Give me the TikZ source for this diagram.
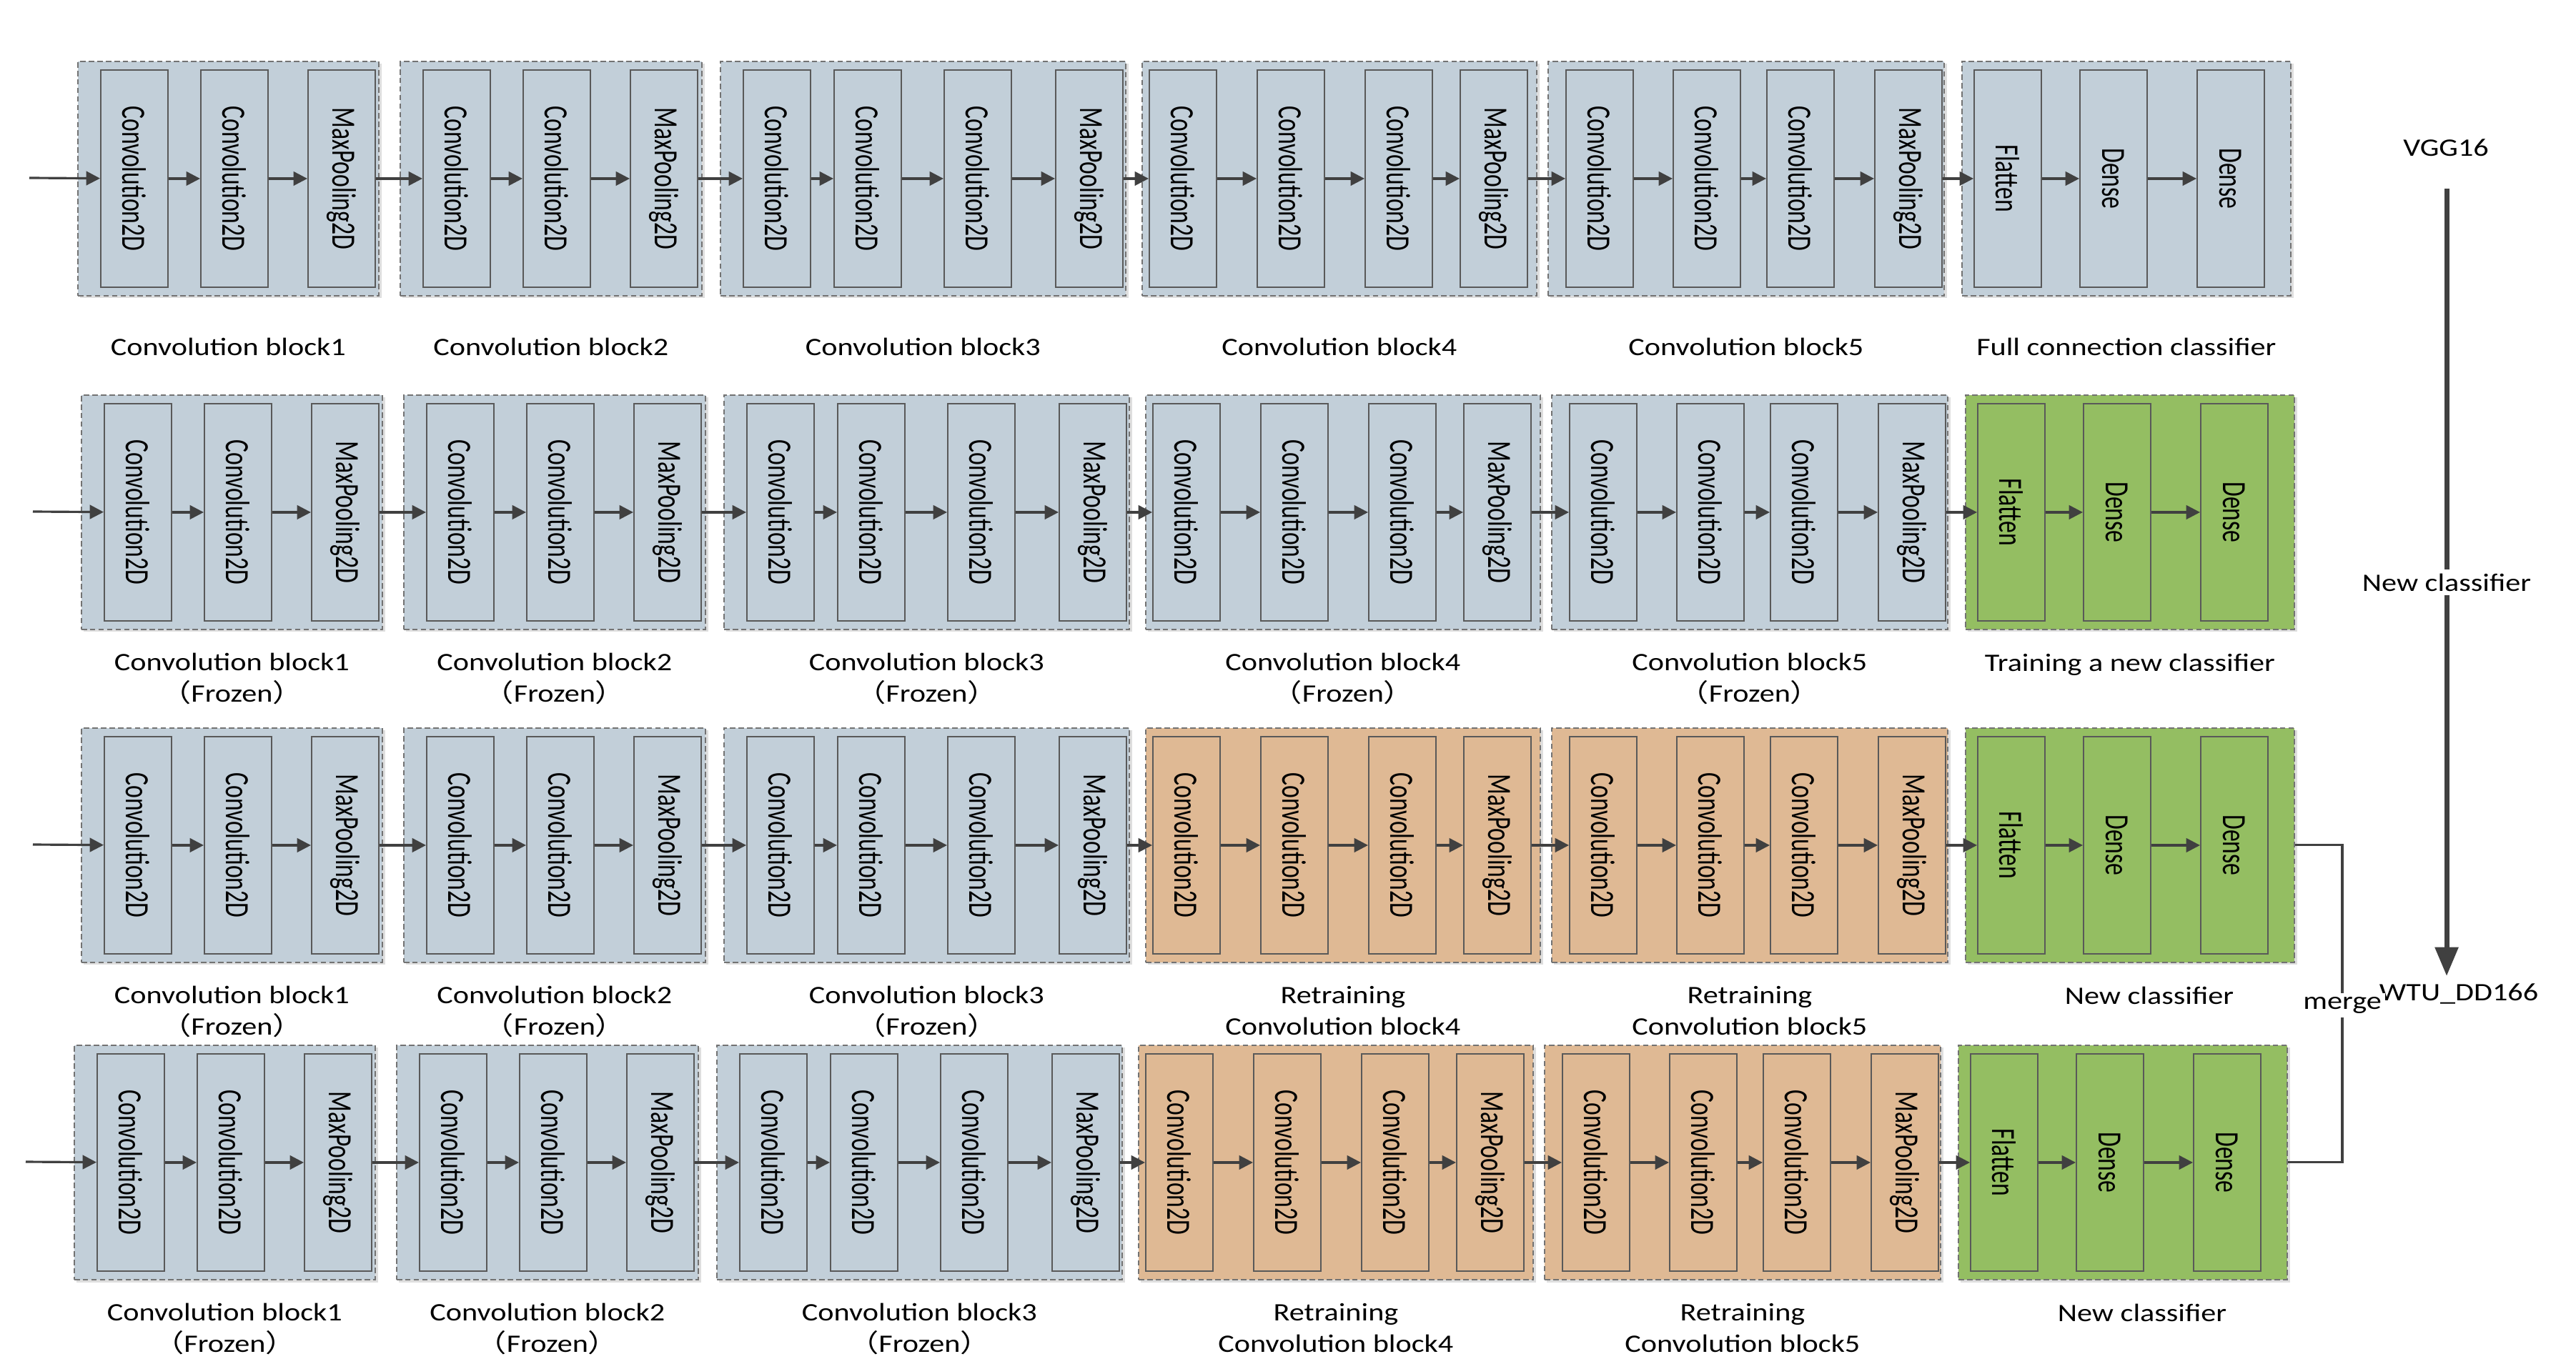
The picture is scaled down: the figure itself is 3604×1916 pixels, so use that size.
\documentclass[tikz,border=0pt]{standalone}
\usepackage{fontspec}
\setmainfont{Carlito}[FakeStretch=1.2]
\newfontfamily\layerfont{Carlito}[FakeStretch=0.71]
\newfontfamily\cjkfont{Noto Sans CJK SC}[FakeStretch=1.2]
\usetikzlibrary{arrows.meta, shadows, positioning}

\definecolor{bluegray}{RGB}{194,207,217}
\definecolor{retrain}{RGB}{223,185,148}
\definecolor{newcls}{RGB}{148,190,98}
\definecolor{linegray}{RGB}{64,64,64}

\newcommand{\frozen}{{\cjkfont （}Frozen{\cjkfont ）}}

% layers of each block: offset from the block's left edge / text
\def\blockA{32/Convolution2D,172/Convolution2D,322/MaxPooling2D}
\def\blockB{32/Convolution2D,159/Convolution2D,313/Convolution2D,469/MaxPooling2D}
\def\blockC{10/Convolution2D,161/Convolution2D,312/Convolution2D,445/MaxPooling2D}
\def\blockD{25/Convolution2D,175/Convolution2D,306/Convolution2D,457/MaxPooling2D}
\def\clsf{17/Flatten,165/Dense,329/Dense}

\tikzset{
  blockbox/.style={draw=black!55, dash pattern=on 2.2pt off 1.2pt, line width=0.45pt,
    inner sep=0pt, minimum height=32.8mm, anchor=north west,
    drop shadow={shadow xshift=0.35mm, shadow yshift=-0.35mm, fill=black!13, opacity=1}},
  layerbox/.style={draw=black!65, line width=0.5pt, inner sep=0pt,
    minimum width=9.4mm, minimum height=30.4mm, anchor=north west,
    font=\layerfont\fontsize{13.5}{13.5}\selectfont},
  flow/.style={-{Triangle[length=5.5pt,width=5.5pt]}, line width=0.9pt, draw=linegray},
  bigflow/.style={-{Triangle[length=11.5pt,width=9pt]}, line width=2pt, draw=linegray},
  caption/.style={align=center, anchor=base, font=\fontsize{10}{12.5}\selectfont},
}

% #1 name, #2 left, #3 top, #4 width, #5 fill, #6 layers
\newcommand{\netblock}[6]{%
  \node[blockbox, fill=#5, minimum width=#4*0.1mm] (#1) at (#2,#3) {};
  \foreach \off/\txt [count=\k, remember=\k as \j (initially 0)] in #6 {
    \node[layerbox, fill=#5] (#1-\k) at (#2+\off,#3+12) {\rotatebox{-90}{\txt}};
    \ifnum\k>1 \draw[flow] (#1-\j) -- (#1-\k); \fi
  }
}

\begin{document}
\begin{tikzpicture}[x=0.01cm, y=-0.01cm]
\useasboundingbox (0,0) rectangle (3604,1916);

% the four networks
\foreach \rw/\ytop/\dx in {1/85/0, 2/552/5, 3/1018/5, 4/1462/-5}{
  \ifnum\rw>2 \def\tailcol{retrain}\else\def\tailcol{bluegray}\fi
  \ifnum\rw>1 \def\clscol{newcls}\else\def\clscol{bluegray}\fi
  \netblock{r\rw b1}{108+\dx}{\ytop}{421}{bluegray}{\blockA}
  \netblock{r\rw b2}{559+\dx}{\ytop}{422}{bluegray}{\blockA}
  \netblock{r\rw b3}{1007+\dx}{\ytop}{567}{bluegray}{\blockB}
  \netblock{r\rw b4}{1597+\dx}{\ytop}{552}{\tailcol}{\blockC}
  \netblock{r\rw b5}{2165+\dx}{\ytop}{554}{\tailcol}{\blockD}
  \netblock{r\rw b6}{2744+\dx}{\ytop}{460}{\clscol}{\clsf}
  \coordinate (in\rw) at (41+\dx,\ytop+164);
  \draw[flow] (in\rw) -- (r\rw b1-1);
  \draw[flow] (r\rw b1-3) -- (r\rw b2-1);
  \draw[flow] (r\rw b2-3) -- (r\rw b3-1);
  \draw[flow] (r\rw b3-4) -- (r\rw b4-1);
  \draw[flow] (r\rw b4-4) -- (r\rw b5-1);
  \draw[flow] (r\rw b5-4) -- (r\rw b6-1);
}

% captions (base = baseline of the last line)
\foreach \bk in {1,...,5}
  \node[caption] at ([yshift=-8.3mm]r1b\bk.south) {Convolution block\bk};
\node[caption] at ([yshift=-8.3mm]r1b6.south) {Full connection classifier};
\foreach \bk in {1,...,5}
  \node[caption] at ([yshift=-10.1mm]r2b\bk.south) {Convolution block\bk\\\frozen};
\node[caption] at ([yshift=-5.8mm]r2b6.south) {Training a new classifier};
\foreach \rw in {3,4}{
  \foreach \bk in {1,2,3}
    \node[caption] at ([yshift=-10.1mm]r\rw b\bk.south) {Convolution block\bk\\\frozen};
  \foreach \bk in {4,5}
    \node[caption] at ([yshift=-10.1mm]r\rw b\bk.south) {Retraining\\Convolution block\bk};
  \node[caption] at ([xshift=2.7mm,yshift=-5.8mm]r\rw b6.south) {New classifier};
}

% from VGG16 to the merged model
\node (vgg) at (3422,207) {VGG16};
\coordinate (vtop) at (3423,264);
\coordinate (vtip) at (3423,1366);
\draw[bigflow] (vtop) -- (vtip);
\node[fill=white, inner sep=1.5pt] (newc) at (3423,815) {New classifier};
\node (wtu) at (3440,1391) {WTU\_DD166};

\coordinate (mx) at (3277,1180);
\draw[line width=0.9pt, draw=linegray] (r3b6.east) -- (r3b6.east -| mx)
  -- (r4b6.east -| mx) -- (r4b6.east);
\node[fill=white, inner sep=1.5pt] (merge) at (3277,1407) {merge};
\end{tikzpicture}
\end{document}
